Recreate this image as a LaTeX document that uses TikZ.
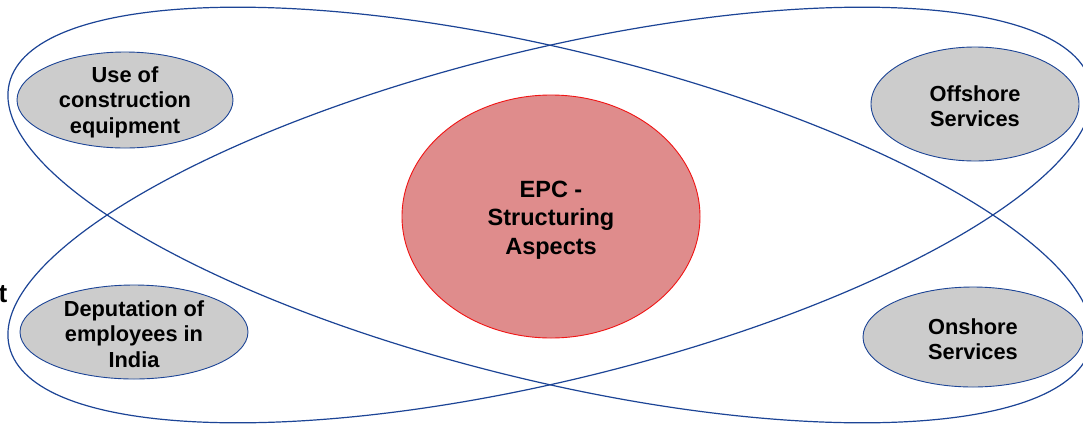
\documentclass[tikz,border=0pt]{standalone}
\usepackage{fontspec}
\setmainfont{Liberation Sans}
\usetikzlibrary{shapes.geometric}

\definecolor{loopblue}{RGB}{28,68,150}
\definecolor{itemgray}{RGB}{204,204,204}
\definecolor{corefill}{RGB}{223,140,140}
\definecolor{coreline}{RGB}{240,20,20}

\tikzset{
  bigloop/.style={draw=loopblue, line width=1.2pt},
  itemshape/.style={ellipse, draw=loopblue, line width=0.9pt, fill=itemgray,
    inner sep=0pt},
  itemtext/.style={inner sep=0pt, align=center, text=black, yshift=-2pt,
    font=\fontsize{21.8}{25.5}\selectfont\bfseries},
  coreshape/.style={ellipse, draw=coreline, line width=0.9pt, fill=corefill,
    inner sep=0pt, minimum width=298pt, minimum height=243pt},
  coretext/.style={inner sep=0pt, align=center, text=black, yshift=-3.5pt,
    font=\fontsize{23.5}{28.5}\selectfont\bfseries}
}

\begin{document}
\begin{tikzpicture}[x=1pt, y=1pt]
  % canvas
  \useasboundingbox (0,-426) rectangle (1083,0);
  \fill[white] (0,-426) rectangle (1083,0);

  % two crossing loops
  \draw[bigloop, rotate around={-13.7:(550,-215)}]
    (550,-215) ellipse [x radius=556.5pt, y radius=165.4pt];
  \draw[bigloop, rotate around={13.7:(550,-215)}]
    (550,-215) ellipse [x radius=556.5pt, y radius=165.4pt];

  % central topic
  \node[coreshape] (epc) at (551,-216.5) {};
  \node[coretext] (epctext) at (epc.center) {EPC -\\Structuring\\Aspects};

  % four aspects
  \node[itemshape, minimum width=216pt, minimum height=96pt] (equip) at (125,-100) {};
  \node[itemtext] (equiptext) at (equip.center) {Use of\\construction\\equipment};

  \node[itemshape, minimum width=228pt, minimum height=94pt] (deput) at (134,-332) {};
  \node[itemtext] (deputtext) at (deput.center) {Deputation of\\employees in\\India};

  \node[itemshape, minimum width=208pt, minimum height=114pt] (offsh) at (975,-104) {};
  \node[itemtext] (offshtext) at (offsh.center) {Offshore\\Services};

  \node[itemshape, minimum width=220pt, minimum height=100pt] (onsh) at (973,-337) {};
  \node[itemtext] (onshtext) at (onsh.center) {Onshore\\Services};

  % trailing letter of a label running off the left edge
  \node[anchor=base east, inner sep=0pt, font=\fontsize{26}{30}\selectfont\bfseries]
    (edge) at (7.5,-302) {t};
\end{tikzpicture}
\end{document}
